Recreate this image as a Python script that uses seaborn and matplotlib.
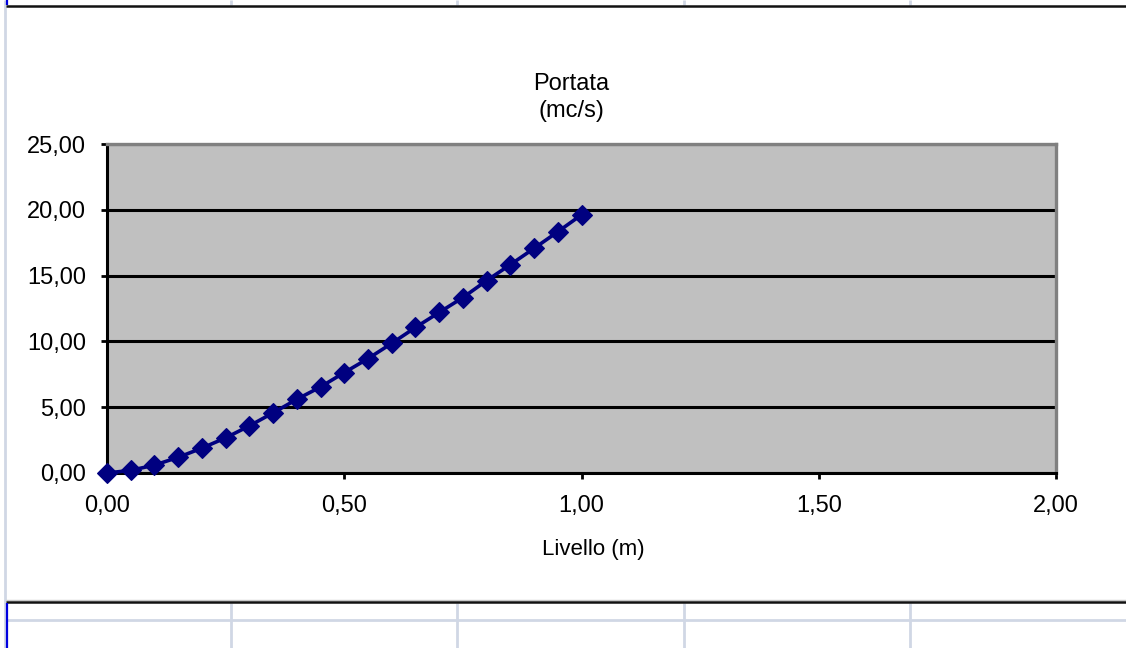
import matplotlib
matplotlib.use("Agg")
import matplotlib.pyplot as plt
from matplotlib.lines import Line2D
import pandas as pd
import seaborn as sns

# Stage-discharge data: water level (m) and discharge (m^3/s)
livello = [0.00, 0.05, 0.10, 0.15, 0.20, 0.25, 0.30, 0.35, 0.40, 0.45, 0.50,
           0.55, 0.60, 0.65, 0.70, 0.75, 0.80, 0.85, 0.90, 0.95, 1.00]
portata = [0.00, 0.20, 0.60, 1.19, 1.89, 2.67, 3.58, 4.57, 5.60, 6.54, 7.63,
           8.69, 9.85, 11.06, 12.20, 13.33, 14.62, 15.83, 17.07, 18.33, 19.62]

x_ticks = [0.0, 0.5, 1.0, 1.5, 2.0]
y_ticks = [0, 5, 10, 15, 20, 25]

W, H = 1126, 648

sns.set_style("white", {"axes.facecolor": "#C0C0C0"})
plt.rcParams["font.family"] = ["Liberation Sans", "DejaVu Sans"]
plt.rcParams["text.color"] = "black"


def fx(px):
    return px / W


def fy(py):
    return 1 - py / H


def comma(v):
    return f"{v:.2f}".replace(".", ",")


fig = plt.figure(figsize=(W / 100, H / 100), dpi=100)
fig.patch.set_facecolor("white")

# Surrounding worksheet cell borders
light = "#D0D7E5"
def hline(y, x0, x1, color, lw):
    fig.add_artist(Line2D([fx(x0), fx(x1)], [fy(y), fy(y)], transform=fig.transFigure,
                          color=color, lw=lw, solid_capstyle="butt"))

def vline(x, y0, y1, color, lw):
    fig.add_artist(Line2D([fx(x), fx(x)], [fy(y0), fy(y1)], transform=fig.transFigure,
                          color=color, lw=lw, solid_capstyle="butt"))

vline(4.5, 0, H, light, 2.0)
for cx in [231, 457, 684, 910]:
    vline(cx, 0, 5, light, 2.0)
    vline(cx, 603, H, light, 2.0)
hline(619.5, 6, W, light, 2.0)
hline(600, 6, W, "#C8C8C8", 1.0)
hline(6, 6, W, "#111111", 1.8)
hline(602, 6, W, "#111111", 1.8)
vline(6.8, 0, 5, "#0000E0", 1.6)
vline(6.8, 603, H, "#0000E0", 1.6)

# Plot area
ax = fig.add_axes([fx(107), fy(473), fx(1056) - fx(107), fy(144) - fy(473)])
df = pd.DataFrame({"Livello": livello, "Portata": portata})
sns.lineplot(data=df, x="Livello", y="Portata", ax=ax, color="#000080",
             lw=2.6, marker="D", markersize=10, markeredgecolor="#000080",
             markeredgewidth=0.8, clip_on=False, zorder=4)

ax.set_xlim(0, 2)
ax.set_ylim(0, 25)
ax.set_xticks(x_ticks)
ax.set_yticks(y_ticks)
ax.set_xticklabels([comma(v) for v in x_ticks])
ax.set_yticklabels([comma(v) for v in y_ticks])
ax.yaxis.grid(True, color="black", lw=2.2)
ax.xaxis.grid(False)
ax.set_axisbelow(True)

for side in ["left", "bottom"]:
    ax.spines[side].set_color("black")
    ax.spines[side].set_linewidth(2.2)
for side in ["top", "right"]:
    ax.spines[side].set_color("#808080")
    ax.spines[side].set_linewidth(2.4)
for s in ax.spines.values():
    s.set_visible(True)

ax.tick_params(axis="both", which="major", bottom=True, left=True,
               direction="out", length=4, width=2.0, color="black",
               labelsize=17, labelcolor="black")
ax.tick_params(axis="x", pad=12)
ax.tick_params(axis="y", pad=11)

ax.set_xlabel("")
ax.set_ylabel("")

fig.text(fx(571), fy(84), "Portata", ha="center", va="center", fontsize=17, color="black")
fig.text(fx(571), fy(111), "(mc/s)", ha="center", va="center", fontsize=17, color="black")
fig.text(fx(593), fy(549), "Livello (m)", ha="center", va="center", fontsize=16, color="black")

fig.savefig("out.png", dpi=100)
